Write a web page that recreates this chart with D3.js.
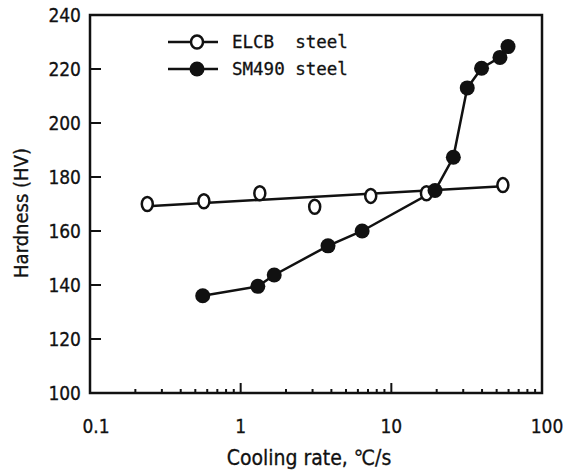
<!DOCTYPE html>
<html lang="en">
<head>
    <meta charset="UTF-8">
    <title>hardness</title>
    <script src="https://d3js.org/d3.v7.min.js"></script>
    <style>
        body {
            margin: 0;
            background: #fff;
        }

        .tick-label {
            font-family: "DejaVu Sans Condensed", "DejaVu Sans", sans-serif;
            font-stretch: condensed;
            font-size: 19px;
            fill: #111;
            stroke: #111;
            stroke-width: 0.3px;
        }

        .legend text {
            font-family: "DejaVu Sans Mono", monospace;
            font-size: 17.5px;
            fill: #111;
            stroke: #111;
            stroke-width: 0.3px;
            white-space: pre;
        }
    </style>
</head>
<body>
<script>
    const width = 565
    const height = 471

    // ELCB steel (open circles)
    const elcbRate = [0.24, 0.57, 1.34, 3.1, 7.3, 17.1, 55]
    const elcbHv = [170, 171, 174, 169, 173, 174, 177]
    // fitted line for ELCB drawn across the data
    const elcbFitRate = [0.24, 55]
    const elcbFitHv = [169.2, 176.6]

    // SM490 steel (filled circles)
    const smRate = [0.56, 1.3, 1.67, 3.8, 6.4, 19.5, 25.8, 31.9, 39.7, 52.6, 59.5]
    const smHv = [136, 139.5, 143.7, 154.5, 160, 175, 187.3, 213, 220.3, 224.3, 228.3]

    const yTicks = [100, 120, 140, 160, 180, 200, 220, 240]
    const xTicks = [0.1, 1, 10, 100]
    const xTickLabels = ['0.1', '1', '10', '100']

    const padLeft = 90, padRight = 542, padTop = 15, padBottom = 393

    var xScale = d3.scaleLog()
        .domain([0.1, 100])
        .range([padLeft, padRight])
    var yScale = d3.scaleLinear()
        .domain([100, 240])
        .range([padBottom, padTop])

    var svg = d3.select("body")
        .append("svg")
        .attr("width", width)
        .attr("height", height)

    // minor ticks on the x axis (2..9 in every decade), pointing up
    var minor = []
    for (var dec = 0.1; dec < 100; dec *= 10) {
        for (var k = 2; k <= 9; k++) minor.push(+(dec * k).toPrecision(3))
    }
    svg.append("g")
        .selectAll("line")
        .data(minor)
        .enter()
        .append("line")
        .attr("x1", d => xScale(d))
        .attr("x2", d => xScale(d))
        .attr("y1", padBottom)
        .attr("y2", padBottom - 4)
        .attr("stroke", "#111")
        .attr("stroke-width", 2)

    // major ticks 1 and 10
    svg.append("g")
        .selectAll("line")
        .data([1, 10])
        .enter()
        .append("line")
        .attr("x1", d => xScale(d))
        .attr("x2", d => xScale(d))
        .attr("y1", padBottom)
        .attr("y2", padBottom - 10)
        .attr("stroke", "#111")
        .attr("stroke-width", 2)

    // y ticks pointing inward
    svg.append("g")
        .selectAll("line")
        .data(yTicks.slice(1, -1))
        .enter()
        .append("line")
        .attr("x1", padLeft)
        .attr("x2", padLeft + 11)
        .attr("y1", d => yScale(d))
        .attr("y2", d => yScale(d))
        .attr("stroke", "#111")
        .attr("stroke-width", 2)

    // frame
    svg.append("rect")
        .attr("x", padLeft)
        .attr("y", padTop)
        .attr("width", padRight - padLeft)
        .attr("height", padBottom - padTop)
        .attr("fill", "none")
        .attr("stroke", "#111")
        .attr("stroke-width", 2.5)

    // tick labels
    svg.append("g")
        .selectAll("text")
        .data(yTicks)
        .enter()
        .append("text")
        .attr("class", "tick-label")
        .attr("x", padLeft - 9)
        .attr("y", d => yScale(d))
        .attr("dy", "0.36em")
        .attr("text-anchor", "end")
        .text(d => d)
    svg.append("g")
        .selectAll("text")
        .data(xTicks)
        .enter()
        .append("text")
        .attr("class", "tick-label")
        .attr("x", (d, i) => xScale(d) + (i == 0 ? 6 : 0) + (i == 3 ? 5 : 0))
        .attr("y", 433)
        .attr("text-anchor", "middle")
        .text((d, i) => xTickLabels[i])

    // axis titles
    svg.append("text")
        .attr("class", "tick-label")
        .attr("x", 309)
        .attr("y", 465)
        .attr("text-anchor", "middle")
        .style("font-size", "21px")
        .text("Cooling rate, \u2103/s")
    svg.append("text")
        .attr("class", "tick-label")
        .attr("transform", "translate(28,213) rotate(-90)")
        .attr("text-anchor", "middle")
        .style("font-size", "20px")
        .text("Hardness (HV)")

    var line = d3.line()
        .x(d => xScale(d[0]))
        .y(d => yScale(d[1]))

    // ELCB fit line
    svg.append("path")
        .datum(d3.zip(elcbFitRate, elcbFitHv))
        .attr("d", line)
        .attr("fill", "none")
        .attr("stroke", "#111")
        .attr("stroke-width", 2.5)

    // SM490 polyline
    svg.append("path")
        .datum(d3.zip(smRate, smHv))
        .attr("d", line)
        .attr("fill", "none")
        .attr("stroke", "#111")
        .attr("stroke-width", 2.5)

    svg.append("g")
        .selectAll("ellipse")
        .data(d3.zip(elcbRate, elcbHv))
        .enter()
        .append("ellipse")
        .attr("cx", d => xScale(d[0]))
        .attr("cy", d => yScale(d[1]))
        .attr("rx", 5.5)
        .attr("ry", 7)
        .attr("fill", "#fff")
        .attr("stroke", "#111")
        .attr("stroke-width", 2.5)

    svg.append("g")
        .selectAll("circle")
        .data(d3.zip(smRate, smHv))
        .enter()
        .append("circle")
        .attr("cx", d => xScale(d[0]))
        .attr("cy", d => yScale(d[1]))
        .attr("r", 7.5)
        .attr("fill", "#111")

    // legend
    var legend = svg.append("g").attr("class", "legend")
    legend.append("line")
        .attr("x1", 168).attr("x2", 218)
        .attr("y1", 42).attr("y2", 42)
        .attr("stroke", "#111").attr("stroke-width", 2.5)
    legend.append("ellipse")
        .attr("cx", 197).attr("cy", 42)
        .attr("rx", 6).attr("ry", 6.5)
        .attr("fill", "#fff").attr("stroke", "#111").attr("stroke-width", 2.5)
    legend.append("text")
        .attr("x", 232).attr("y", 42).attr("dy", "0.36em")
        .text("ELCB  steel")
    legend.append("line")
        .attr("x1", 168).attr("x2", 218)
        .attr("y1", 69).attr("y2", 69)
        .attr("stroke", "#111").attr("stroke-width", 2.5)
    legend.append("circle")
        .attr("cx", 197).attr("cy", 69)
        .attr("r", 7.5)
        .attr("fill", "#111")
    legend.append("text")
        .attr("x", 232).attr("y", 69).attr("dy", "0.36em")
        .text("SM490 steel")
</script>
</body>
</html>
